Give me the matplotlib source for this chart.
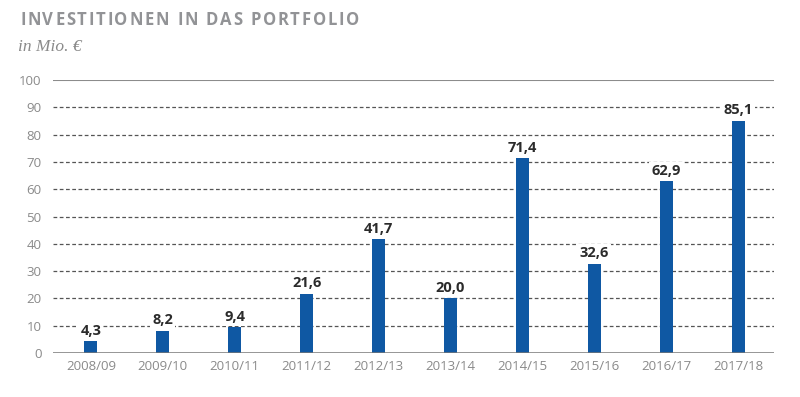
import matplotlib
matplotlib.use("Agg")
import matplotlib.pyplot as plt

categories = ["2008/09", "2009/10", "2010/11", "2011/12", "2012/13",
              "2013/14", "2014/15", "2015/16", "2016/17", "2017/18"]
values = [4.3, 8.2, 9.4, 21.6, 41.7, 20.0, 71.4, 32.6, 62.9, 85.1]
yticks = [0, 10, 20, 30, 40, 50, 60, 70, 80, 90, 100]

plt.rcParams['font.family'] = ['Open Sans', 'DejaVu Sans']

fig = plt.figure(figsize=(8, 3.97), dpi=100)
ax = fig.add_axes([0.066, 0.111, 0.9015, 0.687])

x = list(range(len(categories)))
bar_color = "#0f58a3"
ax.bar(x, values, width=0.18, color=bar_color, zorder=3)

for yv in yticks[1:-1]:
    ax.axhline(yv, color="#555555", lw=0.9, ls=(0, (3, 2)), zorder=1)
ax.axhline(100, color="#8c8c8c", lw=1.5, zorder=1)
ax.axhline(0, color="#777777", lw=1.8, zorder=4)

for xi, v in zip(x, values):
    ax.text(xi, v + 1.3, f"{v:.1f}".replace(".", ","), ha="center", va="bottom",
            fontsize=10.5, fontweight="bold", color="#2b2b2b", zorder=5,
            bbox=dict(facecolor="white", edgecolor="none", pad=1.5))

ax.set_xlim(-0.53, 9.5)
ax.set_ylim(0, 100)
ax.set_yticks(yticks)
ax.set_yticklabels([str(t) for t in yticks])
ax.set_xticks(x)
ax.set_xticklabels(categories)
ax.tick_params(axis="both", length=0, labelsize=9.5, colors="#8a8a8a")
ax.tick_params(axis="y", pad=8)
ax.tick_params(axis="x", pad=5)
for s in ax.spines.values():
    s.set_visible(False)

# Letter-spaced title, placed character by character
title = "INVESTITIONEN IN DAS PORTFOLIO"
renderer = fig.canvas.get_renderer()
xpix = 20.0
ypix = 397 - 20
spacing = 1.75
for ch in title:
    t = fig.text(xpix / 800, ypix / 397, ch, fontsize=12, fontweight="bold",
                 color="#929396", va="center", ha="left")
    if ch == " ":
        w = 4.5
    else:
        w = t.get_window_extent(renderer=renderer).width
    xpix += w + spacing

fig.text(0.023, 0.881, "in Mio. €", fontsize=12.5, fontstyle="italic",
         family=["Liberation Serif", "DejaVu Serif"], color="#8a8a8a", va="center", ha="left")

fig.savefig("out.png", dpi=100)
